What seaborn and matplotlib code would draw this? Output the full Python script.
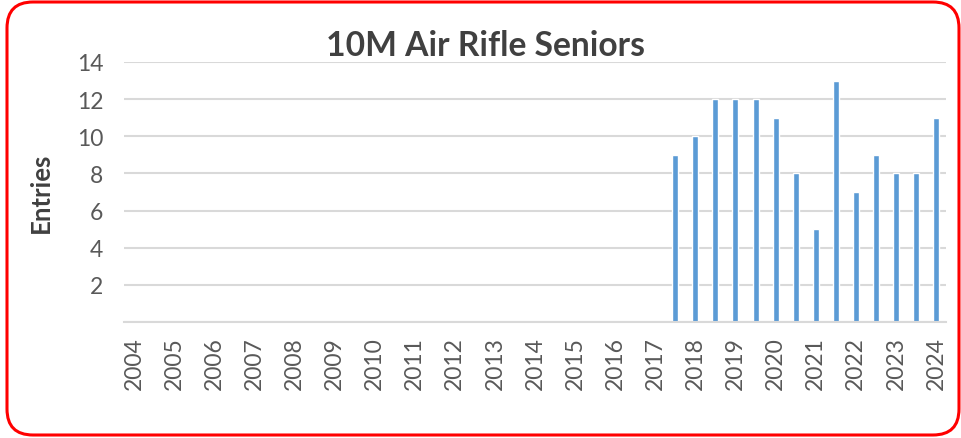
import matplotlib
matplotlib.use("Agg")
import matplotlib.pyplot as plt
import seaborn as sns
import pandas as pd
from matplotlib.patches import FancyBboxPatch

# Half-year categories 2004 .. 2024
periods = ["2004", "2004.5", "2005", "2005.5", "2006", "2006.5", "2007", "2007.5",
           "2008", "2008.5", "2009", "2009.5", "2010", "2010.5", "2011", "2011.5",
           "2012", "2012.5", "2013", "2013.5", "2014", "2014.5", "2015", "2015.5",
           "2016", "2016.5", "2017", "2017.5", "2018", "2018.5", "2019", "2019.5",
           "2020", "2020.5", "2021", "2021.5", "2022", "2022.5", "2023", "2023.5",
           "2024"]
entries = [0, 0, 0, 0, 0, 0, 0, 0,
           0, 0, 0, 0, 0, 0, 0, 0,
           0, 0, 0, 0, 0, 0, 0, 0,
           0, 0, 0, 9, 10, 12, 12, 12,
           11, 8, 5, 13, 7, 9, 8, 8,
           11]
year_labels = ["2004", "2005", "2006", "2007", "2008", "2009", "2010", "2011",
               "2012", "2013", "2014", "2015", "2016", "2017", "2018", "2019",
               "2020", "2021", "2022", "2023", "2024"]
y_ticks = [0, 2, 4, 6, 8, 10, 12, 14]
y_tick_labels = ["", "2", "4", "6", "8", "10", "12", "14"]

sns.set_theme(style="white")
plt.rcParams['font.family'] = ['Lato', 'DejaVu Sans']

fig = plt.figure(figsize=(9.61, 4.39), dpi=100)
ax = fig.add_axes([124 / 961, 1 - 323 / 439, 822 / 961, 260 / 439])

df = pd.DataFrame({"period": periods, "entries": entries})
sns.barplot(data=df, x="period", y="entries", order=periods, color="#5b9bd5",
            saturation=1, width=0.3, ax=ax)

ax.set_xlim(-0.5, len(periods) - 0.5)
ax.set_ylim(0, 14)
ax.set_yticks(y_ticks)
ax.set_yticklabels(y_tick_labels)
ax.set_xticks(range(0, len(periods), 2))
ax.set_xticklabels(year_labels, rotation=90)
ax.set_axisbelow(True)
ax.yaxis.grid(True, color="#d9d9d9", lw=1.5)
ax.xaxis.grid(False)
for s in ["left", "right", "top"]:
    ax.spines[s].set_visible(False)
ax.spines["bottom"].set_color("#d9d9d9")
ax.spines["bottom"].set_linewidth(1.5)
ax.tick_params(axis="both", length=0, colors="#595959", labelsize=16.5)
ax.tick_params(axis="y", pad=15)
ax.tick_params(axis="x", pad=10)
ax.set_xlabel("")
ax.set_ylabel("Entries", fontweight="bold", fontsize=18.5, color="#404040")
ax.yaxis.set_label_coords(-0.087, 0.5)

fig.text(485 / 961, 1 - 56 / 439, "10M Air Rifle Seniors", ha="center", va="baseline",
         fontsize=24.2, fontweight="bold", color="#404040")

border = FancyBboxPatch((0.07, 0.03), 9.52, 4.33,
                        boxstyle="round,pad=0,rounding_size=0.26",
                        transform=fig.dpi_scale_trans, fill=False,
                        edgecolor="#ff0000", linewidth=2.2)
fig.patches.append(border)

fig.savefig("out.png", dpi=100)
